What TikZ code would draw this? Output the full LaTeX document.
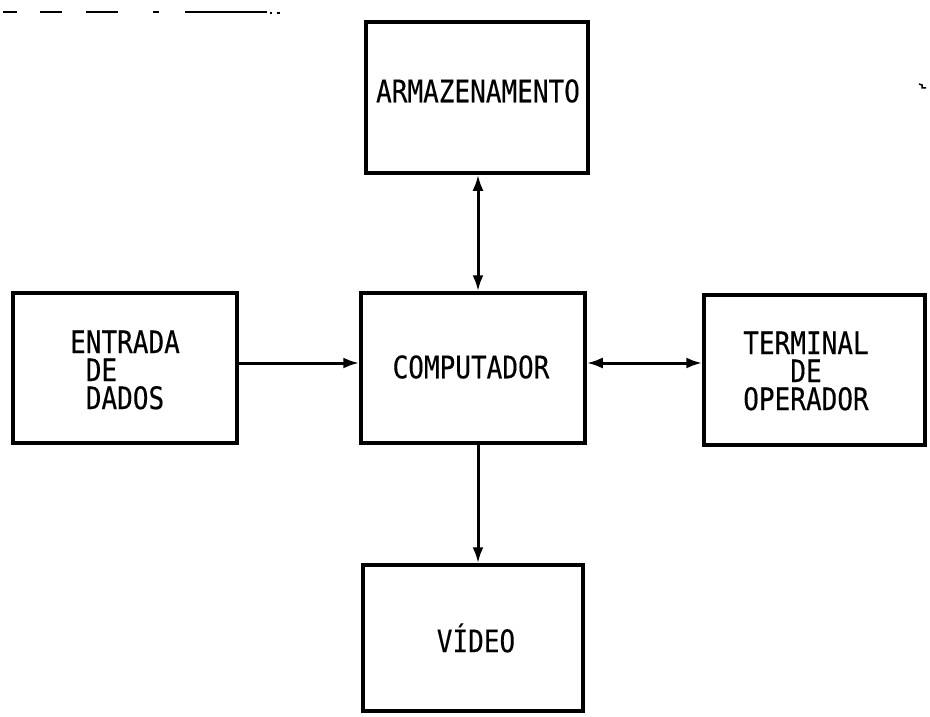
\documentclass[tikz,border=0pt]{standalone}
\usepackage{fontspec}
\newfontfamily\typefont[FakeStretch=0.84,FakeBold=0.3]{DejaVu Sans Mono}
\usetikzlibrary{arrows.meta}
\tikzset{
  blockbox/.style={draw, line width=3.5pt, minimum width=#1, inner sep=0pt},
  lbl/.style={font=\typefont\fontsize{31}{28}\selectfont, align=left, inner sep=0pt},
  conn/.style={line width=3pt, -{Latex[length=16pt,width=11pt]}},
  conn2/.style={line width=3pt, {Latex[length=16pt,width=11pt]}-{Latex[length=16pt,width=11pt]}},
  scan/.style={line width=2pt}
}
\begin{document}
\begin{tikzpicture}[x=1pt,y=-1pt]
\useasboundingbox (0,0) rectangle (930,717);
% boxes
\node[blockbox=222pt, minimum height=151pt] (arm) at (477,97.5) {};
\node[blockbox=224pt, minimum height=150pt] (comp) at (473,368) {};
\node[blockbox=224pt, minimum height=150pt] (ent) at (125,368) {};
\node[blockbox=221pt, minimum height=150pt] (term) at (814.5,370) {};
\node[blockbox=220pt, minimum height=146pt] (vid) at (473,638) {};
% labels
\node[lbl] (armt) at (478,91) {ARMAZENAMENTO};
\node[lbl] (compt) at (471,367) {COMPUTADOR};
\node[lbl] (entt) at (125,370) {ENTRADA\\\phantom{E}DE\\\phantom{E}DADOS};
\node[lbl] (termt) at (806,371) {TERMINAL\\\phantom{TER}DE\\OPERADOR};
\node[lbl] (vidt) at (476,638) {VÍDEO};
% connectors
\draw[conn2] (arm.south -| 478,0) -- (comp.north -| 478,0);
\draw[conn] (comp.south -| 478,0) -- (vid.north -| 478,0);
\draw[conn] (ent.east |- 0,363) -- (comp.west |- 0,363);
\draw[conn2] (comp.east |- 0,363) -- (term.west |- 0,363);
% scan marks at top
\draw[scan] (3,12) -- (17,12);
\draw[scan] (40,12) -- (62,12);
\draw[scan] (86,12) -- (118,12);
\draw[scan] (153,12) -- (159,12);
\draw[line width=2.6pt] (185,12) -- (267,12);
\draw[scan] (270,13) -- (272,13);
\draw[scan] (277,13) -- (280,13);
\draw[line width=1.5pt] (919,84) -- (922,85) -- (922,88) -- (926,88);
\end{tikzpicture}
\end{document}
